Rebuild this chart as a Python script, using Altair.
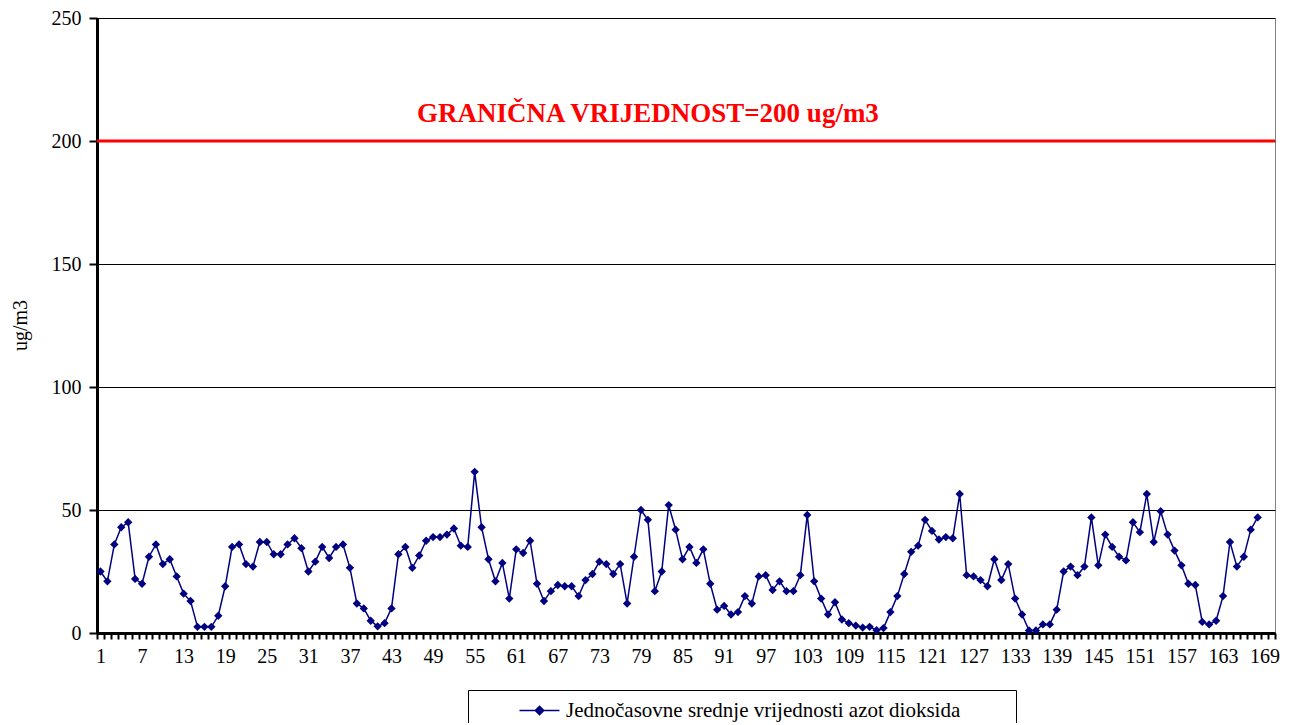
import altair as alt
import pandas as pd

# ---- data ----
hours = list(range(1, 171))  # category axis 1..170 (labels every 6th)
values = [
    25, 21, 36, 43, 45, 22, 20, 31, 36, 28,
    30, 23, 16, 13, 2.5, 2.5, 2.5, 7, 19, 35,
    36, 28, 27, 37, 37, 32, 32, 36, 38.5, 34.5,
    25, 29, 35, 30.5, 35, 36, 26.5, 12, 10, 5,
    2.7, 4, 10, 32, 35, 26.5, 31.5, 37.5, 39, 39,
    40, 42.5, 35.5, 35, 65.5, 43, 30, 21, 28.5, 14,
    34, 32.5, 37.5, 20, 13, 17, 19.5, 19, 19, 15,
    21.5, 24, 29, 28, 24, 28, 12, 31, 50, 46,
    17, 25, 52, 42, 30, 35, 28.5, 34, 20, 9.5,
    11, 7.5, 8.5, 15, 12, 23, 23.5, 17.5, 21, 17,
    17, 23.5, 48, 21, 14, 7.5, 12.5, 5.5, 4, 3,
    2.2, 2.5, 1.1, 2, 8.5, 15, 24, 33, 35.5, 46,
    41.5, 38, 39, 38.5, 56.5, 23.5, 23, 21.5, 19, 30,
    21.5, 28, 14, 7.5, 1, 1, 3.5, 3.5, 9.5, 25,
    27, 23.5, 27, 47, 27.5, 40, 35, 31, 29.5, 45,
    41, 56.5, 37, 49.5, 40, 33.5, 27.5, 20, 19.5, 4.5,
    3.5, 5, 15, 37, 27, 31, 42, 47,
]
series_name = "Jednočasovne srednje vrijednosti azot dioksida"
y_ticks = [0, 50, 100, 150, 200, 250]
limit_value = [200]
limit_label = ["GRANIČNA VRIJEDNOST=200 ug/m3"]
label_anchor_hour = [80]

df = pd.DataFrame({"sat": hours[:len(values)], "vrijednost": values, "serija": series_name})
lim = pd.DataFrame({"granica": limit_value, "tekst": limit_label, "sat": label_anchor_hour})

NAVY = "#000080"
RED = "#FF0000"
FONT = "Liberation Serif"

x_enc = alt.X(
    "sat:O",
    scale=alt.Scale(type="band", domain=hours, paddingInner=0, paddingOuter=0),
    axis=alt.Axis(
        title=None, labelAngle=0, grid=False, labelOverlap=False,
        labelExpr="(datum.value - 1) % 6 == 0 ? datum.label : ''",
        tickBand="extent", tickSize=6, tickWidth=2, tickColor="black",
        domainWidth=3, domainColor="black",
        labelFont=FONT, labelFontSize=20, labelColor="black", labelPadding=7,
    ),
)
y_enc = alt.Y(
    "vrijednost:Q",
    scale=alt.Scale(domain=[0, 250], nice=False),
    axis=alt.Axis(
        title="ug/m3", values=y_ticks, grid=True, gridColor="black", gridWidth=1,
        domainWidth=3, domainColor="black", tickSize=8, tickWidth=2, tickColor="black",
        labelFont=FONT, labelFontSize=20, labelColor="black", labelPadding=8,
        titleFont=FONT, titleFontSize=20, titleFontWeight="normal", titleColor="black",
        titleX=-67, titleY=307,
    ),
)

# line with a diamond; the trailing zero-length segment only widens the legend box
legend_symbol = "M4.43,0H10.14M7.29,-0.6L7.89,0L7.29,0.6L6.69,0ZM73.5,0L73.5,0"

base = alt.Chart(df)
line = base.mark_line(color=NAVY, strokeWidth=1.5).encode(x=x_enc, y=y_enc)
points = base.mark_point(shape="diamond", filled=True, size=70, opacity=1).encode(
    x=x_enc,
    y=y_enc,
    color=alt.Color(
        "serija:N",
        scale=alt.Scale(range=[NAVY]),
        legend=alt.Legend(
            title=None, orient="none", legendX=371, legendY=672,
            strokeColor="black", fillColor="white", padding=10, cornerRadius=0,
            symbolType=legend_symbol, symbolSize=196, symbolFillColor=NAVY,
            symbolStrokeColor=NAVY, symbolStrokeWidth=1.5, labelOffset=67,
            labelFont=FONT, labelFontSize=21, labelColor="black", labelLimit=1000,
        ),
    ),
)
rule = alt.Chart(lim).mark_rule(color=RED, strokeWidth=3).encode(y=alt.Y("granica:Q"))
text = alt.Chart(lim).mark_text(
    color=RED, font=FONT, fontSize=27, fontWeight="bold", dy=-27
).encode(x=alt.X("sat:O"), y=alt.Y("granica:Q"), text="tekst:N")

chart = alt.layer(line, points, rule, text).properties(
    width=1178, height=615,
    autosize=alt.AutoSizeParams(type="none"),
    padding={"left": 89, "top": 10, "right": 6, "bottom": 90},
).configure_view(stroke="#808080", strokeWidth=1)

chart.save("out.html", embed_options={"renderer": "svg", "actions": False})
